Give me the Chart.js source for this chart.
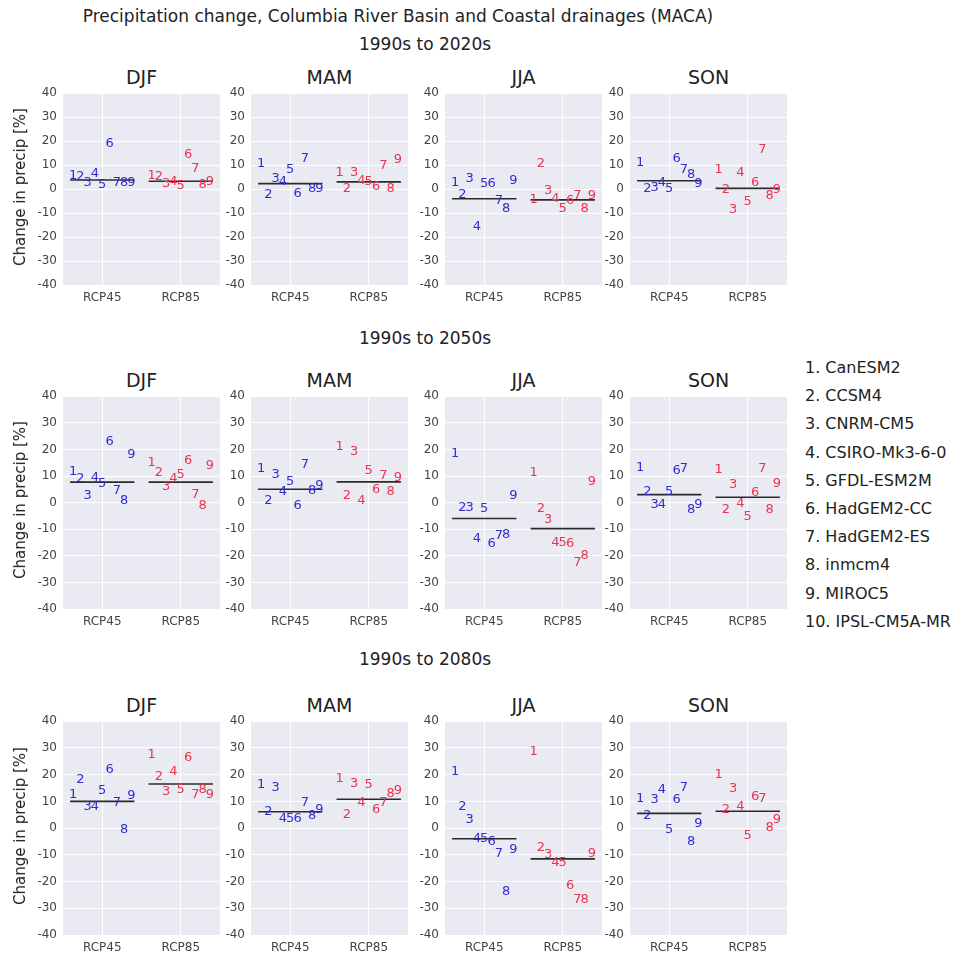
<!DOCTYPE html>
<html>
<head>
<meta charset="utf-8">
<script src="https://cdn.jsdelivr.net/npm/chart.js@4.4.1/dist/chart.umd.min.js"></script>
<style>
  body { margin: 0; background: #fff; font-family: 'DejaVu Sans', sans-serif; }
  #wrap { position: relative; width: 965px; height: 955px; overflow: hidden; }
  canvas { position: absolute; }
  .txt { position: absolute; white-space: nowrap; color: #222; transform: translate(-50%, -50%); }
  .leg { position: absolute; white-space: nowrap; color: #222; transform: translateY(-50%); }
</style>
</head>
<body>
<div id="wrap"></div>
<script>
const seasons = ['DJF', 'MAM', 'JJA', 'SON'];
const periods = ['1990s to 2020s', '1990s to 2050s', '1990s to 2080s'];
const scenarios = ['RCP45', 'RCP85'];
const models = ['CanESM2', 'CCSM4', 'CNRM-CM5', 'CSIRO-Mk3-6-0', 'GFDL-ESM2M',
    'HadGEM2-CC', 'HadGEM2-ES', 'inmcm4', 'MIROC5', 'IPSL-CM5A-MR'];
const yMin = -40, yMax = 40, yStep = 10;

// 1990s to 2020s, models 1..9
const djf20_45 = [5.5, 5.2, 2.8, 6.5, 2.0, 18.8, 2.5, 2.5, 2.5];
const djf20_85 = [5.5, 5.3, 2.2, 3.2, 1.5, 14.2, 8.5, 1.8, 3.2];
const mam20_45 = [10.5, -2.3, 4.5, 3.3, 8.3, -1.8, 12.7, 0.3, 0.3];
const mam20_85 = [6.8, 0.0, 7.0, 3.5, 3.0, 1.0, 10.0, 0.2, 12.5];
const jja20_45 = [2.5, -2.2, 4.2, -15.6, 2.3, 2.3, -4.8, -8.2, 3.6];
const jja20_85 = [-4.5, 10.8, -0.5, -4.0, -8.0, -5.0, -2.6, -8.0, -2.6];
const son20_45 = [11.0, 0.3, 0.8, 2.6, 0.3, 12.6, 8.0, 6.0, 2.4];
const son20_85 = [8.0, -0.3, -8.6, 7.0, -5.3, 2.8, 16.5, -2.6, -0.2];
const mean20_45 = [3.8, 2.3, -4.0, 3.5];
const mean20_85 = [3.3, 3.0, -4.5, 0.3];

// 1990s to 2050s
const djf50_45 = [11.6, 9.1, 2.8, 9.5, 7.1, 22.9, 4.6, 0.6, 18.0];
const djf50_85 = [15.0, 11.3, 5.9, 8.9, 10.7, 15.9, 3.0, -1.1, 13.8];
const mam50_45 = [12.8, 0.6, 10.4, 4.0, 7.7, -1.1, 14.4, 4.6, 6.2];
const mam50_85 = [21.0, 2.8, 19.3, 0.8, 12.0, 5.0, 10.2, 4.0, 9.5];
const jja50_45 = [18.3, -1.8, -1.8, -13.7, -2.4, -15.5, -12.4, -12.2, 2.8];
const jja50_85 = [11.3, -2.1, -6.3, -15.1, -14.9, -15.5, -22.7, -19.8, 7.7];
const son50_45 = [13.2, 4.3, -0.6, -0.6, 4.3, 12.0, 12.6, -2.7, -0.6];
const son50_85 = [12.5, -2.5, 6.6, -0.3, -5.3, 3.7, 12.8, -2.6, 7.3];
const mean50_45 = [7.7, 5.0, -6.0, 3.0];
const mean50_85 = [7.7, 7.8, -9.8, 2.0];

// 1990s to 2080s
const djf80_45 = [12.4, 18.2, 8.0, 8.0, 14.0, 21.8, 9.4, -0.4, 12.0];
const djf80_85 = [27.4, 19.4, 13.7, 21.3, 14.5, 26.5, 12.4, 14.5, 12.4];
const mam80_45 = [16.2, 6.1, 15.0, 3.4, 3.4, 3.4, 9.4, 4.6, 7.0];
const mam80_85 = [18.6, 5.2, 16.8, 9.7, 16.1, 6.8, 9.6, 12.8, 14.2];
const jja80_45 = [21.3, 7.9, 3.3, -4.0, -4.0, -5.0, -9.5, -23.8, -7.9];
const jja80_85 = [28.6, -7.4, -9.9, -12.9, -12.9, -21.7, -26.7, -26.7, -9.5];
const son80_45 = [11.2, 4.5, 10.6, 14.5, -0.4, 10.6, 15.2, -5.0, 1.5];
const son80_85 = [20.1, 7.0, 14.9, 8.2, -3.0, 11.7, 11.0, 0.0, 3.0];
const mean80_45 = [10.0, 6.1, -4.0, 5.5];
const mean80_85 = [16.5, 10.8, -11.5, 6.3];

const panels = [
    [[djf20_45, djf20_85], [mam20_45, mam20_85], [jja20_45, jja20_85], [son20_45, son20_85]],
    [[djf50_45, djf50_85], [mam50_45, mam50_85], [jja50_45, jja50_85], [son50_45, son50_85]],
    [[djf80_45, djf80_85], [mam80_45, mam80_85], [jja80_45, jja80_85], [son80_45, son80_85]]
];
const means = [[mean20_45, mean20_85], [mean50_45, mean50_85], [mean80_45, mean80_85]];

// layout
const plotLeft = [63, 251, 445, 630];
const plotW = 157;
const plotTop = [88, 391, 716];
const plotH = [197, 218, 219];
const titleY = [77, 380, 705];
const subY = [44, 338, 659];
const axisW = 40, padTop = 8, padRight = 4, xAxisH = 26;
const colors = ['#2e2ed0', '#ea3350'];
const spread = 0.093, lineHalf = 0.41;

const wrap = document.getElementById('wrap');

function addText(cls, text, x, y, size, extra) {
    const d = document.createElement('div');
    d.className = cls;
    d.textContent = text;
    d.style.left = x + 'px';
    d.style.top = y + 'px';
    d.style.fontSize = size + 'px';
    if (extra) Object.assign(d.style, extra);
    wrap.appendChild(d);
    return d;
}

const plotBg = {
    id: 'plotBg',
    beforeDraw(chart) {
        const a = chart.chartArea, ctx = chart.ctx;
        ctx.save();
        ctx.fillStyle = '#eaeaf2';
        ctx.fillRect(a.left, a.top, a.right - a.left, a.bottom - a.top);
        ctx.restore();
    }
};

const numberLabels = {
    id: 'numberLabels',
    afterDatasetsDraw(chart) {
        const ctx = chart.ctx;
        ctx.save();
        ctx.font = '13px "DejaVu Sans"';
        ctx.textAlign = 'center';
        ctx.textBaseline = 'middle';
        chart.data.datasets.forEach((ds, di) => {
            if (!ds.numbers) return;
            ctx.fillStyle = ds.textColor;
            chart.getDatasetMeta(di).data.forEach((pt, i) => {
                ctx.fillText(String(i + 1), pt.x, pt.y);
            });
        });
        ctx.restore();
    }
};

addText('txt', 'Precipitation change, Columbia River Basin and Coastal drainages (MACA)', 398, 16, 17);

periods.forEach((period, r) => {
    addText('txt', period, 425, subY[r], 17);
    seasons.forEach((season, c) => {
        addText('txt', season, plotLeft[c] + plotW / 2, titleY[r], 19);

        const cv = document.createElement('canvas');
        const w = axisW + plotW + padRight, h = padTop + plotH[r] + xAxisH;
        cv.width = w; cv.height = h;
        cv.style.width = w + 'px'; cv.style.height = h + 'px';
        cv.style.left = (plotLeft[c] - axisW) + 'px';
        cv.style.top = (plotTop[r] - padTop) + 'px';
        wrap.appendChild(cv);

        const datasets = [];
        scenarios.forEach((sc, s) => {
            const vals = panels[r][c][s];
            datasets.push({
                type: 'scatter',
                label: sc,
                numbers: true,
                textColor: colors[s],
                data: vals.map((v, i) => ({ x: s + (i - 4) * spread, y: v })),
                pointRadius: 0,
                pointHoverRadius: 0
            });
            const m = means[r][s][c];
            datasets.push({
                type: 'line',
                label: sc + ' mean',
                data: [{ x: s - lineHalf, y: m }, { x: s + lineHalf, y: m }],
                borderColor: '#2b2b2b',
                borderWidth: 1.6,
                pointRadius: 0,
                fill: false
            });
        });

        new Chart(cv.getContext('2d'), {
            type: 'scatter',
            data: { datasets },
            options: {
                responsive: false,
                animation: false,
                layout: { padding: { top: padTop, right: padRight, left: 0, bottom: 0 } },
                plugins: { legend: { display: false }, tooltip: { enabled: false } },
                scales: {
                    x: {
                        type: 'linear', min: -0.5, max: 1.5,
                        afterBuildTicks: sc => { sc.ticks = [{ value: 0 }, { value: 1 }]; },
                        afterFit: sc => { sc.height = xAxisH; },
                        ticks: {
                            callback: v => scenarios[v] || '',
                            color: '#444', font: { size: 12, family: 'DejaVu Sans' }, padding: 6
                        },
                        grid: { color: '#ffffff', lineWidth: 1, drawTicks: false },
                        border: { display: false }
                    },
                    y: {
                        min: yMin, max: yMax,
                        afterFit: sc => { sc.width = axisW; },
                        ticks: {
                            stepSize: yStep,
                            color: '#444', font: { size: 12, family: 'DejaVu Sans' }, padding: 6
                        },
                        grid: { color: '#ffffff', lineWidth: 1, drawTicks: false },
                        border: { display: false }
                    }
                }
            },
            plugins: [plotBg, numberLabels]
        });
    });
    addText('txt', 'Change in precip [%]', 20, plotTop[r] + plotH[r] / 2, 15,
        { transform: 'translate(-50%, -50%) rotate(-90deg)' });
});

const legendY0 = 367, legendStep = 28.2;
models.forEach((m, i) => {
    addText('leg', (i + 1) + '. ' + m, 805, legendY0 + i * legendStep, 16);
});
</script>
</body>
</html>
